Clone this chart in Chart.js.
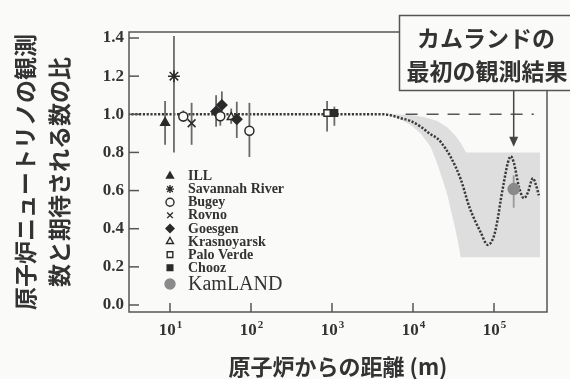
<!DOCTYPE html>
<html>
<head>
<meta charset="utf-8">
<script src="https://cdn.jsdelivr.net/npm/chart.js@4.4.1/dist/chart.umd.min.js"></script>
<style>
  html, body { margin: 0; padding: 0; background: #fafaf8; }
</style>
</head>
<body>
<canvas id="chart" width="570" height="379"></canvas>
<script>
// reactor experiments: distance (m), observed/expected ratio, error bar ends
const expNames = ['ILL', 'Savannah River', 'Bugey', 'Rovno', 'Goesgen', 'Krasnoyarsk', 'Palo Verde', 'Chooz', 'KamLAND'];
const expDist = [[8.7], [11.2], [14.6, 41.8, 95.6], [18.5], [37.1, 43.7, 66.8], [57], [870], [1070], [175000]];
const expRatio = [[0.955], [1.20], [0.988, 0.99, 0.914], [0.953], [1.014, 1.049, 0.974], [0.985], [1.007], [1.007], [0.608]];
const expErrLow = [[0.84], [0.80], [0.96, 0.94, 0.776], [0.84], [0.935, 0.98, 0.876], [0.95], [0.91], [0.94], [0.51]];
const expErrHigh = [[1.07], [1.41], [1.02, 1.04, 1.06], [1.06], [1.10, 1.12, 1.066], [1.03], [1.07], [1.04], [0.68]];

// oscillation expectation (dotted curve)
const oscDist = [3, 4300, 5300, 7000, 9300, 12400, 16500, 19800, 22000, 29200, 38800, 50000, 68700, 83800, 99500, 111000, 121000, 132000, 148000, 161000, 176000, 203000, 234000, 262000, 302000, 329000, 358000];
const oscRatio = [1.0, 1.0, 0.995, 0.98, 0.965, 0.935, 0.895, 0.875, 0.855, 0.776, 0.66, 0.51, 0.38, 0.315, 0.36, 0.45, 0.55, 0.64, 0.745, 0.78, 0.745, 0.62, 0.56, 0.59, 0.665, 0.63, 0.575];

// shaded allowed region (outline, clockwise)
const bandDist = [4300, 9300, 14000, 20000, 26800, 33000, 38800, 43000, 45500, 369000, 369000, 38800, 35600, 32500, 29200, 26500, 23900, 20000, 16500, 12400, 9340, 6500, 4300];
const bandRatio = [1.0, 0.997, 0.985, 0.965, 0.93, 0.89, 0.85, 0.815, 0.80, 0.80, 0.25, 0.25, 0.34, 0.42, 0.50, 0.58, 0.64, 0.74, 0.83, 0.90, 0.944, 0.98, 1.0];

// no-oscillation reference (dashed)
const flatDist = [8100, 310000];
const flatRatio = [1.0, 1.0];

const xTicks = [10, 100, 1000, 10000, 100000];
const yTicks = [0, 0.2, 0.4, 0.6, 0.8, 1.0, 1.2, 1.4];

const bg = '#fafaf8';
const ink = '#2a2a2a';
const serif = "'Liberation Serif', 'DejaVu Serif', serif";
const cjk = "'Noto Sans CJK JP', sans-serif";

const markerStyles = [
  { pointStyle: 'triangle', radius: 5, fill: ink },
  { pointStyle: 'star', radius: 6, fill: ink },
  { pointStyle: 'circle', radius: 4.5, fill: bg },
  { pointStyle: 'crossRot', radius: 5.5, fill: ink },
  { pointStyle: 'rectRot', radius: 5, fill: ink },
  { pointStyle: 'triangle', radius: 4.5, fill: bg },
  { pointStyle: 'rect', radius: 4.5, fill: bg },
  { pointStyle: 'rect', radius: 4.5, fill: ink },
  { pointStyle: 'circle', radius: 5.5, fill: '#8a8a8a' }
];

const toXY = (xs, ys) => xs.map((x, i) => ({ x, y: ys[i] }));

const datasets = expNames.map((name, i) => ({
  label: name,
  data: toXY(expDist[i], expRatio[i]),
  pointStyle: markerStyles[i].pointStyle,
  pointRadius: markerStyles[i].radius,
  backgroundColor: markerStyles[i].fill,
  borderColor: i === 8 ? '#8a8a8a' : ink,
  borderWidth: 1.5,
  order: 0
}));

datasets.push({
  type: 'line', label: 'flat', data: toXY(flatDist, flatRatio),
  borderColor: '#555', borderWidth: 1.5, borderDash: [12, 9],
  pointRadius: 0, fill: false, order: 1
});
datasets.push({
  type: 'line', label: 'osc', data: toXY(oscDist, oscRatio),
  borderColor: '#3a3a3a', borderWidth: 2.5, borderDash: [2.2, 1.6],
  pointRadius: 0, fill: false, cubicInterpolationMode: 'monotone', order: 2
});
datasets.push({
  type: 'line', label: 'band', data: toXY(bandDist, bandRatio),
  borderWidth: 0, borderColor: 'rgba(0,0,0,0)', backgroundColor: '#dedede',
  pointRadius: 0, fill: 'shape', tension: 0, order: 3
});

const line = (ctx, x1, y1, x2, y2) => {
  ctx.beginPath(); ctx.moveTo(x1, y1); ctx.lineTo(x2, y2); ctx.stroke();
};

const decorations = {
  id: 'decorations',
  beforeDraw(chart) {
    const ctx = chart.ctx;
    ctx.save();
    ctx.fillStyle = bg;
    ctx.fillRect(0, 0, chart.width, chart.height);
    ctx.restore();
  },
  beforeDatasetDraw(chart, args) {
    // error bars go under the markers but over the shaded band
    if (args.index !== expNames.length - 1) return;
    const { ctx, scales: { x, y } } = chart;
    ctx.save();
    ctx.lineWidth = 1.8;
    expNames.forEach((n, i) => {
      ctx.strokeStyle = i === 8 ? '#999' : '#6a6a6a';
      expDist[i].forEach((d, j) => {
        const px = x.getPixelForValue(d);
        line(ctx, px, y.getPixelForValue(expErrLow[i][j]), px, y.getPixelForValue(expErrHigh[i][j]));
      });
    });
    ctx.restore();
  },
  afterDraw(chart) {
    const { ctx, chartArea: a, scales: { x, y } } = chart;
    ctx.save();
    ctx.strokeStyle = '#555';
    ctx.lineWidth = 1.5;
    ctx.strokeRect(a.left, a.top, a.right - a.left, a.bottom - a.top);

    // inward tick marks
    yTicks.forEach(v => { const py = y.getPixelForValue(v); line(ctx, a.left, py, a.left + 10, py); });
    xTicks.forEach(v => { const px = x.getPixelForValue(v); line(ctx, px, a.bottom, px, a.bottom - 9); });

    // x tick labels 10^n
    ctx.fillStyle = '#333';
    ctx.textBaseline = 'middle';
    xTicks.forEach(v => {
      const px = x.getPixelForValue(v);
      const exp = String(Math.round(Math.log10(v)));
      ctx.font = 'bold 17px ' + serif;
      const wBase = ctx.measureText('10').width;
      ctx.font = 'bold 11px ' + serif;
      const wExp = ctx.measureText(exp).width;
      const left = px - (wBase + wExp) / 2;
      ctx.textAlign = 'left';
      ctx.font = 'bold 17px ' + serif;
      ctx.fillText('10', left, a.bottom + 19);
      ctx.font = 'bold 11px ' + serif;
      ctx.fillText(exp, left + wBase + 1, a.bottom + 13);
    });

    // legend inside plot
    const drawPoint = Chart.helpers && Chart.helpers.drawPoint;
    expNames.forEach((name, i) => {
      const ly = i < 8 ? 176 + i * 13.1 : 284;
      const st = markerStyles[i];
      ctx.fillStyle = st.fill;
      ctx.strokeStyle = i === 8 ? '#8a8a8a' : ink;
      ctx.lineWidth = 1.4;
      if (drawPoint) {
        drawPoint(ctx, { pointStyle: st.pointStyle, radius: i === 8 ? 5 : 4, rotation: 0, borderWidth: 1.4 }, 170, ly);
      }
      ctx.fillStyle = '#333';
      ctx.textAlign = 'left';
      ctx.textBaseline = 'middle';
      ctx.font = i === 8 ? '20px ' + serif : 'bold 14px ' + serif;
      ctx.fillText(name, 188, ly + 0.5);
    });

    // callout box
    ctx.fillStyle = bg;
    ctx.fillRect(399, 15, 185, 75);
    ctx.strokeStyle = '#555';
    ctx.lineWidth = 1.5;
    ctx.strokeRect(399.5, 15.5, 185, 75);
    ctx.fillStyle = '#333';
    ctx.textAlign = 'center';
    ctx.font = 'bold 23px ' + cjk;
    ctx.fillText('カムランドの', 486, 38);
    ctx.fillText('最初の観測結果', 487, 71);

    // arrow to KamLAND
    const ax = x.getPixelForValue(expDist[8][0]);
    const tip = y.getPixelForValue(0.83);
    ctx.strokeStyle = '#444';
    ctx.lineWidth = 1.5;
    line(ctx, ax, 91, ax, tip - 6);
    ctx.fillStyle = '#444';
    ctx.beginPath();
    ctx.moveTo(ax, tip);
    ctx.lineTo(ax - 4.5, tip - 10);
    ctx.lineTo(ax + 4.5, tip - 10);
    ctx.closePath();
    ctx.fill();
    ctx.restore();
  }
};

new Chart(document.getElementById('chart').getContext('2d'), {
  type: 'scatter',
  data: { datasets },
  options: {
    responsive: false,
    animation: false,
    devicePixelRatio: 1,
    layout: { padding: { left: 0, top: 32, right: 23, bottom: 0 } },
    plugins: { legend: { display: false }, tooltip: { enabled: false } },
    scales: {
      x: {
        type: 'logarithmic',
        min: 3.12,
        max: 4.51e5,
        grid: { display: false, drawTicks: false },
        border: { display: false },
        ticks: { display: false },
        title: {
          display: true,
          text: '原子炉からの距離 (m)',
          color: '#333',
          font: { family: cjk, size: 22, weight: 'bold', lineHeight: 1.2 },
          padding: { top: 0, bottom: -1 }
        },
        afterFit(s) { s.height = 67; }
      },
      y: {
        min: -0.0367,
        max: 1.4315,
        grid: { display: false, drawTicks: false },
        border: { display: false },
        afterBuildTicks(s) { s.ticks = yTicks.map(v => ({ value: v })); },
        ticks: {
          color: '#333',
          padding: 5,
          font: { family: serif, size: 17, weight: 'bold' },
          callback: v => Number(v).toFixed(1)
        },
        title: {
          display: true,
          text: ['原子炉ニュートリノの観測', '数と期待される数の比'],
          color: '#333',
          font: { family: cjk, size: 23, weight: 'bold', lineHeight: 34 / 23 },
          padding: { top: 8, bottom: 0 }
        },
        afterFit(s) { s.width = 129; }
      }
    }
  },
  plugins: [decorations]
});
</script>
</body>
</html>
